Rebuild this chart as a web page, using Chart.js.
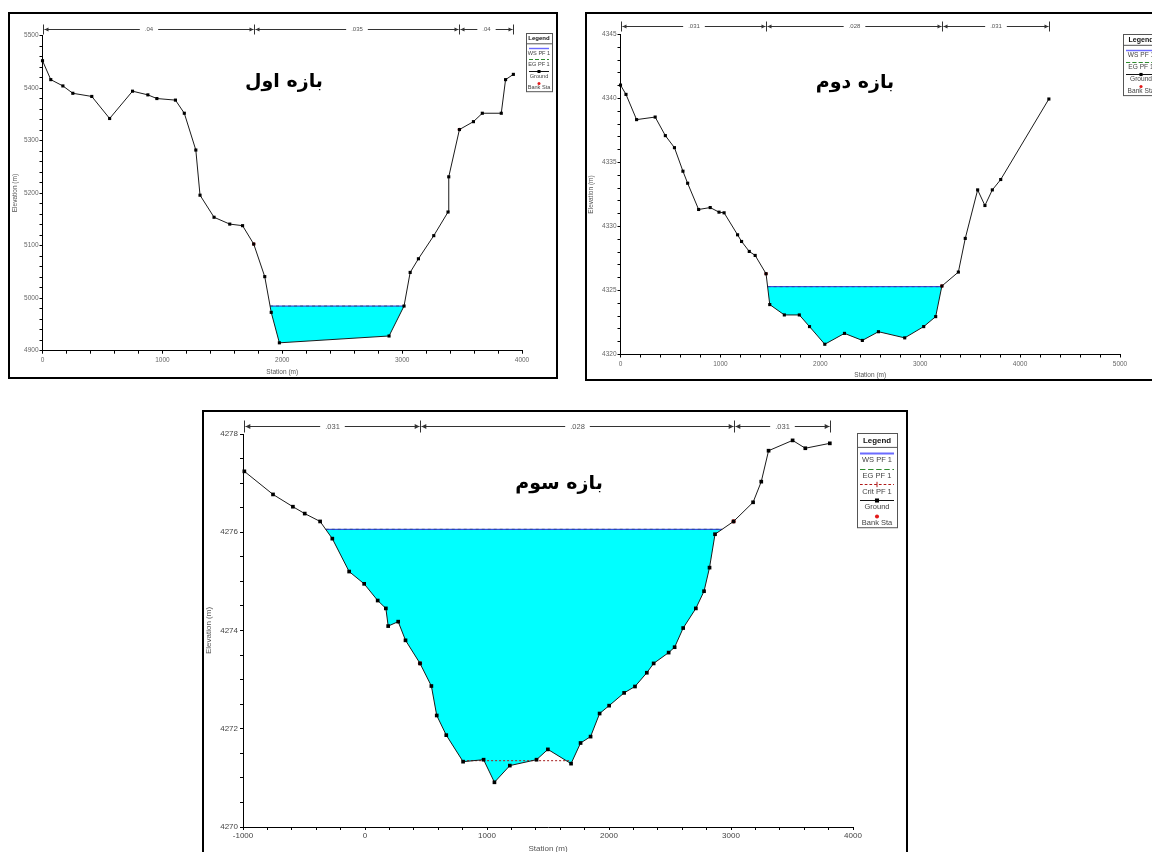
<!DOCTYPE html>
<html lang="fa">
<head>
<meta charset="UTF-8" />
<title>مقاطع عرضی بازه‌ها</title>
<script src="https://cdn.jsdelivr.net/npm/chart.js"></script>
<style>
  body { margin: 0; background: #fff; width: 1152px; height: 852px; overflow: hidden; position: relative; }
  .box { position: absolute; border: 2px solid #000; box-sizing: border-box; }
  canvas { position: absolute; }
  .title {
    position: absolute; transform: translate(-50%, -50%); white-space: nowrap;
    font: bold 19px "DejaVu Sans", sans-serif; color: #000; direction: rtl; unicode-bidi: isolate;
  }
</style>
</head>
<body>
<div class="box" style="left:8px;top:12px;width:550px;height:367px"></div>
<div class="box" style="left:585px;top:12px;width:580px;height:369px"></div>
<div class="box" style="left:202px;top:410px;width:706px;height:470px"></div>
<canvas id="c1" style="left:8px;top:12px"></canvas>
<canvas id="c2" style="left:585px;top:12px"></canvas>
<canvas id="c3" style="left:202px;top:410px"></canvas>
<div class="title" dir="rtl" style="left:284px;top:80px">بازه اول</div>
<div class="title" dir="rtl" style="left:855px;top:81px">بازه دوم</div>
<div class="title" dir="rtl" style="left:559px;top:482px">بازه سوم</div>

<script>
// بازه اول
const sta1 = [0, 69, 170, 253, 411, 560, 751, 879, 954, 1109, 1183, 1279, 1314, 1431, 1562, 1669, 1762, 1854, 1908, 1976, 2891, 3016, 3067, 3136, 3264, 3383, 3389, 3478, 3595, 3669, 3827, 3863, 3928];
const elev1 = [5452, 5416, 5404, 5390, 5384, 5342, 5394, 5387, 5380, 5377, 5352, 5282, 5196, 5154, 5141, 5138, 5103, 5041, 4973, 4915, 4928, 4985, 5049, 5075, 5119, 5164, 5231, 5321, 5336, 5352, 5352, 5416, 5426];
const bank1 = [1762, 3478];
const ws1 = 4985;
const nSta1 = [0, 1762, 3478, 3928];
const nVal1 = ['.04', '.035', '.04'];

// بازه دوم
const sta2 = [0, 55, 161, 347, 449, 540, 625, 672, 782, 898, 986, 1037, 1172, 1212, 1289, 1348, 1457, 1494, 1640, 1790, 1892, 2045, 2242, 2421, 2582, 2845, 3035, 3155, 3217, 3382, 3451, 3575, 3648, 3722, 3806, 4288];
const elev2 = [4341.05, 4340.32, 4338.35, 4338.55, 4337.1, 4336.16, 4334.32, 4333.38, 4331.33, 4331.48, 4331.12, 4331.07, 4329.35, 4328.83, 4328.05, 4327.74, 4326.31, 4323.9, 4323.09, 4323.09, 4322.18, 4320.8, 4321.65, 4321.1, 4321.78, 4321.3, 4322.18, 4322.96, 4325.35, 4326.44, 4329.07, 4332.86, 4331.64, 4332.86, 4333.67, 4339.96];
const bank2 = [1457, 3217];
const ws2 = 4325.3;
const nSta2 = [0, 1457, 3217, 4288];
const nVal2 = ['.031', '.028', '.031'];

// بازه سوم
const sta3 = [-989, -754, -591, -494, -368, -268, -130, -7, 104, 171, 190, 272, 332, 451, 544, 588, 666, 804, 972, 1061, 1187, 1406, 1499, 1689, 1767, 1849, 1923, 2001, 2124, 2213, 2310, 2366, 2489, 2538, 2608, 2712, 2779, 2824, 2869, 3021, 3181, 3248, 3308, 3505, 3609, 3810];
const elev3 = [4277.24, 4276.77, 4276.52, 4276.38, 4276.22, 4275.87, 4275.2, 4274.95, 4274.61, 4274.45, 4274.09, 4274.18, 4273.8, 4273.33, 4272.87, 4272.27, 4271.87, 4271.33, 4271.37, 4270.91, 4271.25, 4271.37, 4271.58, 4271.29, 4271.71, 4271.84, 4272.31, 4272.47, 4272.73, 4272.86, 4273.14, 4273.33, 4273.55, 4273.66, 4274.05, 4274.45, 4274.8, 4275.28, 4275.96, 4276.22, 4276.61, 4277.03, 4277.66, 4277.87, 4277.71, 4277.81];
const bank3 = [451, 3021];
const ws3 = 4276.06;
const crit3 = 4271.35;
const critSta3 = [804, 1689];
const nSta3 = [-989, 451, 3021, 3810];
const nVal3 = ['.031', '.028', '.031'];

const FONT = '"Liberation Sans", Arial, sans-serif';

// water polygon: ground below the water surface, closed at the two crossings
function waterPoints(sta, elev, ws) {
  const k = elev.indexOf(Math.min(...elev));
  let i = k; while (i > 0 && elev[i - 1] < ws) i--;
  let j = k; while (j < elev.length - 1 && elev[j + 1] < ws) j++;
  const cross = (a, b) => sta[a] + (ws - elev[a]) / (elev[b] - elev[a]) * (sta[b] - sta[a]);
  const pts = [{ x: cross(i - 1, i), y: ws }];
  for (let n = i; n <= j; n++) pts.push({ x: sta[n], y: elev[n] });
  pts.push({ x: cross(j + 1, j), y: ws });
  return pts;
}

function seg(ctx, x0, y0, x1, y1) {
  ctx.beginPath(); ctx.moveTo(x0, y0); ctx.lineTo(x1, y1); ctx.stroke();
}

function drawNBar(ctx, xs, p) {
  const y = p.nY + 0.5;
  ctx.strokeStyle = '#333'; ctx.fillStyle = '#333'; ctx.lineWidth = 1;
  ctx.font = p.nFont + 'px ' + FONT;
  ctx.textAlign = 'center'; ctx.textBaseline = 'middle';
  p.nSta.forEach(s => {
    const x = Math.round(xs.getPixelForValue(s)) + 0.5;
    seg(ctx, x, y - p.nTick, x, y + p.nTick);
  });
  for (let i = 0; i < p.nVal.length; i++) {
    const x0 = Math.round(xs.getPixelForValue(p.nSta[i])) + 1.5;
    const x1 = Math.round(xs.getPixelForValue(p.nSta[i + 1])) - 0.5;
    const xm = (x0 + x1) / 2;
    const tw = ctx.measureText(p.nVal[i]).width / 2 + 5;
    seg(ctx, x0, y, xm - tw, y);
    seg(ctx, xm + tw, y, x1, y);
    const a = p.nTick * 0.8;
    ctx.beginPath(); ctx.moveTo(x0, y); ctx.lineTo(x0 + a, y - a / 2); ctx.lineTo(x0 + a, y + a / 2); ctx.fill();
    ctx.beginPath(); ctx.moveTo(x1, y); ctx.lineTo(x1 - a, y - a / 2); ctx.lineTo(x1 - a, y + a / 2); ctx.fill();
    ctx.fillStyle = '#555';
    ctx.fillText(p.nVal[i], xm, y);
    ctx.fillStyle = '#333';
  }
}

function drawLegend(ctx, L) {
  const s = L.s, x = L.x, y = L.y, w = L.w;
  const head = 10.3 * s, row = 11.6 * s;
  const h = head + L.items.length * row + 1.5 * s;
  ctx.fillStyle = '#fff'; ctx.fillRect(x, y, w, h);
  ctx.strokeStyle = '#555'; ctx.lineWidth = 1; ctx.setLineDash([]);
  ctx.strokeRect(x + 0.5, y + 0.5, w, h);
  seg(ctx, x, y + head + 0.5, x + w, y + head + 0.5);
  ctx.textAlign = 'center'; ctx.textBaseline = 'middle';
  ctx.fillStyle = '#111'; ctx.font = 'bold ' + (L.font + 0.4) + 'px ' + FONT;
  ctx.fillText('Legend', x + w / 2, y + head / 2 + 0.5);
  const xa = x + 3, xb = x + w - 3, xc = x + w / 2;
  L.items.forEach((it, i) => {
    const y0 = y + head + i * row, ym = Math.round(y0 + 4.5 * s) + 0.5, yt = y0 + 9.8 * s;
    ctx.setLineDash([]); ctx.lineWidth = 1;
    if (it[0] === 'ws') { ctx.strokeStyle = '#6b6bff'; ctx.lineWidth = 1.4 * s; seg(ctx, xa, ym, xb, ym); }
    if (it[0] === 'eg') { ctx.strokeStyle = '#2e8b2e'; ctx.setLineDash([4 * s, 2 * s]); seg(ctx, xa, ym, xb, ym); }
    if (it[0] === 'crit') {
      ctx.strokeStyle = '#b01818'; ctx.setLineDash([2 * s, 1.5 * s]); seg(ctx, xa, ym, xb, ym);
      ctx.setLineDash([]); seg(ctx, xc, ym - 2 * s, xc, ym + 2 * s);
    }
    if (it[0] === 'ground') {
      ctx.strokeStyle = '#111'; seg(ctx, xa, ym, xb, ym);
      ctx.fillStyle = '#000'; ctx.fillRect(xc - 1.5 * s, ym - 1.5 * s, 3 * s, 3 * s);
    }
    if (it[0] === 'bank') {
      ctx.fillStyle = '#e31b1b'; ctx.beginPath(); ctx.arc(xc, ym, 1.5 * s, 0, Math.PI * 2); ctx.fill();
    }
    ctx.setLineDash([]);
    ctx.fillStyle = '#444'; ctx.font = L.font + 'px ' + FONT;
    ctx.fillText(it[1], xc, yt);
  });
}

function decoPlugin(p) {
  return {
    id: 'deco',
    afterDraw(chart) {
      const ctx = chart.ctx, a = chart.chartArea;
      ctx.save();
      drawNBar(ctx, chart.scales.x, p);
      drawLegend(ctx, p.legend);
      // axis titles
      ctx.fillStyle = '#555'; ctx.font = p.axisFont + 'px ' + FONT;
      ctx.textAlign = 'center'; ctx.textBaseline = 'middle';
      ctx.fillText('Station (m)', (a.left + a.right) / 2, p.xTitleY);
      ctx.translate(p.yTitleX, (a.top + a.bottom) / 2);
      ctx.rotate(-Math.PI / 2);
      ctx.fillText('Elevation (m)', 0, 0);
      ctx.restore();
    }
  };
}

function major(step) {
  return v => Math.abs(v / step - Math.round(v / step)) < 1e-6 ? String(Math.round(v)) : '';
}

function makePanel(p) {
  const canvas = document.getElementById(p.id);
  canvas.width = p.w; canvas.height = p.h;
  const water = waterPoints(p.sta, p.elev, p.ws);
  const ground = p.sta.map((s, i) => ({ x: s, y: p.elev[i] }));
  const banks = p.bank.map(s => ({ x: s, y: p.elev[p.sta.indexOf(s)] }));
  const wsLine = [{ x: water[0].x, y: p.ws }, { x: water[water.length - 1].x, y: p.ws }];
  const datasets = [
    { data: ground, borderColor: '#1a1a1a', borderWidth: 1, pointStyle: 'rect', pointRadius: p.mark,
      pointBackgroundColor: '#000', pointBorderWidth: 0, clip: false },
    { data: banks, showLine: false, pointStyle: 'circle', pointRadius: p.mark * 0.8,
      pointBackgroundColor: '#e31b1b', pointBorderWidth: 0, clip: false },
    { data: wsLine, borderColor: '#2c2ccf', borderWidth: 1, pointRadius: 0 },
    { data: wsLine, borderColor: '#2e8b2e', borderWidth: 1, borderDash: [3, 3], pointRadius: 0 }
  ];
  if (p.crit) {
    datasets.push({ data: p.critSta.map(s => ({ x: s, y: p.crit })), borderColor: '#a51c1c',
      borderWidth: 1, borderDash: [2, 2], pointRadius: 0 });
  }
  datasets.push({ data: water, borderWidth: 0, pointRadius: 0, fill: { value: p.ws }, backgroundColor: '#00ffff' });

  const tickFont = { family: FONT, size: p.tickSize };
  new Chart(canvas, {
    type: 'line',
    data: { datasets },
    options: {
      responsive: false, animation: false, events: [],
      layout: { padding: { left: 0, top: p.area.t, right: p.w - p.area.r, bottom: 0 } },
      plugins: { legend: { display: false }, tooltip: { enabled: false } },
      elements: { line: { tension: 0 } },
      scales: {
        x: {
          type: 'linear', min: p.xMin, max: p.xMax,
          afterFit: s => { s.height = p.h - p.area.b; },
          ticks: { stepSize: p.xStep, autoSkip: false, maxRotation: 0, padding: p.xPad, font: tickFont,
            color: p.tickColor, callback: major(1000) },
          grid: { drawOnChartArea: false, tickLength: 3, color: '#000' },
          border: { color: '#000' }
        },
        y: {
          min: p.yMin, max: p.yMax,
          afterFit: s => { s.width = p.area.l; },
          ticks: { stepSize: p.yStep, autoSkip: false, padding: p.yPad, font: tickFont,
            color: p.tickColor, callback: major(p.yMajor) },
          grid: { drawOnChartArea: false, tickLength: 3, color: '#000' },
          border: { color: '#000' }
        }
      }
    },
    plugins: [decoPlugin(p)]
  });
}

makePanel({
  id: 'c1', w: 549, h: 366, area: { l: 34.5, t: 23.5, r: 514, b: 338.7 },
  sta: sta1, elev: elev1, bank: bank1, ws: ws1,
  xMin: 0, xMax: 4000, xStep: 200, yMin: 4900, yMax: 5500, yStep: 20, yMajor: 100,
  tickSize: 6.5, tickColor: '#666', xPad: 3, yPad: 1, mark: 2.2,
  nSta: nSta1, nVal: nVal1, nY: 17, nTick: 5, nFont: 6,
  legend: { x: 518, y: 21, w: 26, s: 1, font: 5.6,
    items: [['ws', 'WS PF 1'], ['eg', 'EG PF 1'], ['ground', 'Ground'], ['bank', 'Bank Sta']] },
  axisFont: 6.5, xTitleY: 360, yTitleX: 7
});

makePanel({
  id: 'c2', w: 567, h: 368, area: { l: 35.5, t: 22.5, r: 535, b: 342.5 },
  sta: sta2, elev: elev2, bank: bank2, ws: ws2,
  xMin: 0, xMax: 5000, xStep: 200, yMin: 4320, yMax: 4345, yStep: 1, yMajor: 5,
  tickSize: 6.5, tickColor: '#666', xPad: 3, yPad: 1, mark: 2.2,
  nSta: nSta2, nVal: nVal2, nY: 14, nTick: 5, nFont: 6,
  legend: { x: 538, y: 22, w: 36, s: 1.05, font: 6.6,
    items: [['ws', 'WS PF 1'], ['eg', 'EG PF 1'], ['ground', 'Ground'], ['bank', 'Bank Sta']] },
  axisFont: 6.5, xTitleY: 363, yTitleX: 6
});

makePanel({
  id: 'c3', w: 706, h: 442, area: { l: 41, t: 24, r: 651, b: 417 },
  sta: sta3, elev: elev3, bank: bank3, ws: ws3, crit: crit3, critSta: critSta3,
  xMin: -1000, xMax: 4000, xStep: 200, yMin: 4270, yMax: 4278, yStep: 0.5, yMajor: 2,
  tickSize: 8, tickColor: '#444', xPad: 1, yPad: 2, mark: 2.6,
  nSta: nSta3, nVal: nVal3, nY: 16, nTick: 6, nFont: 7.5,
  legend: { x: 655, y: 23, w: 40, s: 1.35, font: 7.5,
    items: [['ws', 'WS PF 1'], ['eg', 'EG PF 1'], ['crit', 'Crit PF 1'], ['ground', 'Ground'], ['bank', 'Bank Sta']] },
  axisFont: 8, xTitleY: 439, yTitleX: 7
});
</script>
</body>
</html>
